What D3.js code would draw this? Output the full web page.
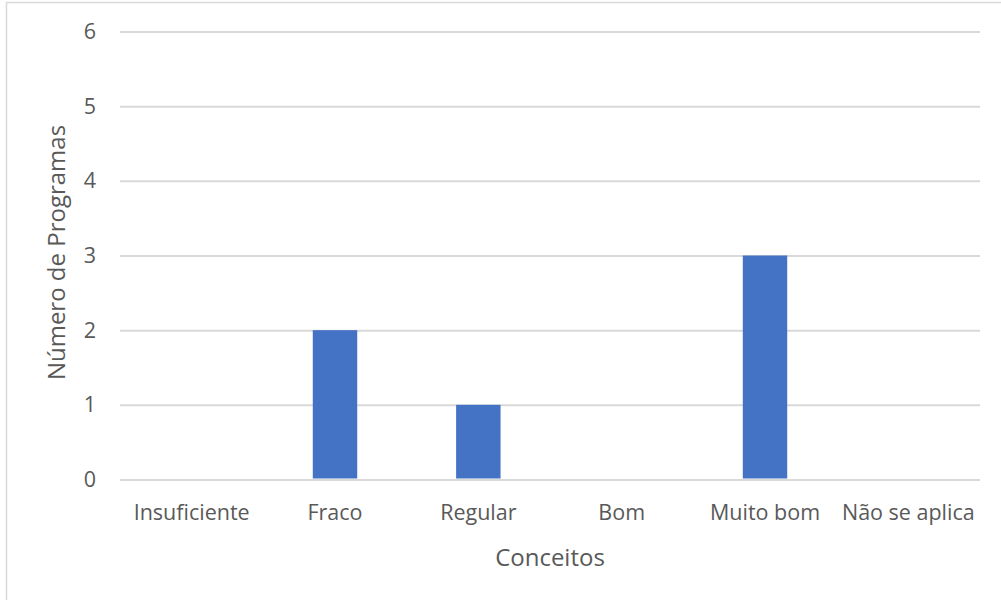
<!DOCTYPE html>
<html><head><meta charset="utf-8">
<script src="https://cdn.jsdelivr.net/npm/d3@7"></script>
<style>body{margin:0;background:#fff;} text{font-family:"Open Sans",sans-serif;fill:#595959;}</style>
</head><body>
<svg id="c" width="1001" height="600"></svg>
<script>
const categories = ["Insuficiente","Fraco","Regular","Bom","Muito bom","Não se aplica"];
const values = [0,2,1,0,3,0];
const yTicks = [0,1,2,3,4,5,6];
const xTitle = "Conceitos";
const yTitle = "Número de Programas";

const svg = d3.select("#c");
svg.append("rect").attr("x",6.5).attr("y",2.5).attr("width",1100).attr("height",700)
  .attr("fill","#fff").attr("stroke","#d9d9d9").attr("stroke-width",1.5);

const pLeft=120, pRight=980, pTop=31.5, pBottom=479.5;
const x = d3.scaleBand().domain(categories).range([pLeft,pRight]).paddingInner(0.69).paddingOuter(0.345);
const y = d3.scaleLinear().domain([0,6]).range([pBottom,pTop]);

const yAxis = svg.append("g").attr("transform",`translate(${pLeft},0)`)
  .call(d3.axisLeft(y).tickValues(yTicks).tickSize(-(pRight-pLeft)).tickPadding(24).tickFormat(d3.format("d")));
yAxis.select(".domain").remove();
yAxis.selectAll("line").attr("stroke","#d9d9d9").attr("stroke-width",2);
yAxis.selectAll("text").attr("font-size","21.5px").attr("fill","#595959").style("font-family","'Open Sans',sans-serif");

svg.append("g").selectAll("rect").data(categories).join("rect")
  .attr("x",d=>x(d)).attr("width",x.bandwidth())
  .attr("y",(d,i)=>y(values[i])).attr("height",(d,i)=>pBottom-1-y(values[i]))
  .attr("fill","#4472c4");

const xAxis = svg.append("g").attr("transform",`translate(0,${pBottom})`)
  .call(d3.axisBottom(x).tickSize(0).tickPadding(22));
xAxis.select(".domain").remove();
xAxis.selectAll("text").attr("font-size","21.5px").attr("fill","#595959")
  .attr("y",520-pBottom).attr("dy",0).style("font-family","'Open Sans',sans-serif");

svg.append("text").attr("x",550).attr("y",566).attr("text-anchor","middle").attr("font-size","24px").text(xTitle);
svg.append("text").attr("transform","translate(65,252.5) rotate(-90)").attr("text-anchor","middle").attr("font-size","24px").text(yTitle);
</script>
</body></html>
